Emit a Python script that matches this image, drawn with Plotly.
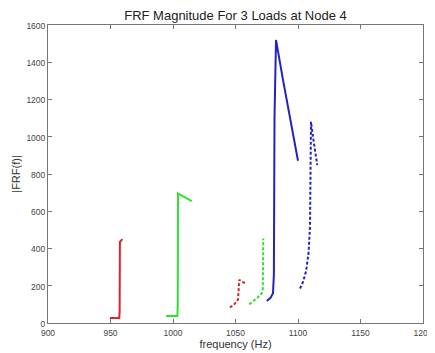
import plotly.graph_objects as go

# Data
red_solid_f = [949.5, 957, 957.3, 957.5, 959.5]
red_solid_m = [27, 27, 60, 435, 450]
green_solid_f = [994.5, 1003.5, 1003.8, 1004, 1015]
green_solid_m = [38, 38, 100, 696, 654]
red_dash_f = [1045.5, 1049, 1052, 1052.5, 1053, 1055, 1058.5]
red_dash_m = [83, 100, 125, 180, 232, 222, 212]
green_dash_f = [1061, 1066, 1070, 1071.8, 1072, 1072.2]
green_dash_m = [100, 125, 150, 170, 300, 454]
blue_solid_f = [1075, 1078, 1080, 1080.7, 1081.2, 1082.4, 1088, 1094, 1100]
blue_solid_m = [118, 135, 160, 260, 1100, 1520, 1305, 1085, 871]
blue_dash_f = [1101.6, 1104, 1106.5, 1108.5, 1109.6, 1110.1, 1110.4, 1112, 1113.8, 1115.4]
blue_dash_m = [185, 220, 280, 380, 520, 750, 1080, 1000, 920, 848]

RED = "rgb(222,35,45)"
GREEN = "rgb(45,225,45)"
BLUE = "rgb(35,35,190)"

fig = go.Figure()
series = [
    (red_solid_f, red_solid_m, RED, "solid"),
    (green_solid_f, green_solid_m, GREEN, "solid"),
    (red_dash_f, red_dash_m, RED, "3px,2px"),
    (green_dash_f, green_dash_m, GREEN, "3px,2px"),
    (blue_solid_f, blue_solid_m, BLUE, "solid"),
    (blue_dash_f, blue_dash_m, BLUE, "3px,2px"),
]
for f, m, c, d in series:
    fig.add_trace(go.Scatter(x=f, y=m, mode="lines",
                             line=dict(color=c, width=2, dash=d),
                             showlegend=False, cliponaxis=False))

axis_common = dict(
    showgrid=False, zeroline=False, showline=True, linecolor="#777",
    linewidth=1, mirror="allticks", ticks="inside", ticklen=4, automargin=False,
    ticklabeloverflow="allow",
    tickcolor="#777", tickfont=dict(family="Liberation Sans, Arial", size=8.5, color="#444"),
)
# page body has an 8px margin, so the figure is 8px smaller and shifted
fig.update_layout(
    width=427, height=345,
    margin=dict(l=40, r=12, t=17, b=30, autoexpand=False),
    paper_bgcolor="white", plot_bgcolor="white",
    title=dict(text="FRF Magnitude For 3 Loads at Node 4", xref="paper", x=0.5,
               xanchor="center", yref="container", y=0.992, yanchor="top",
               font=dict(family="Liberation Sans, Arial", size=13, color="#222")),
    xaxis=dict(range=[900, 1200], tickvals=[900, 950, 1000, 1050, 1100, 1150, 1200],
               ticklabelstandoff=2,
               title=dict(text="frequency (Hz)", standoff=2,
                          font=dict(family="Liberation Sans, Arial", size=11, color="#333")),
               **axis_common),
    yaxis=dict(range=[0, 1600], tickvals=list(range(0, 1601, 200)),
               ticklabelshift=1,
               title=dict(text="|FRF(f)|", standoff=3,
                          font=dict(family="Liberation Sans, Arial", size=11, color="#333")),
               **axis_common),
)
fig.write_html("out.html")
